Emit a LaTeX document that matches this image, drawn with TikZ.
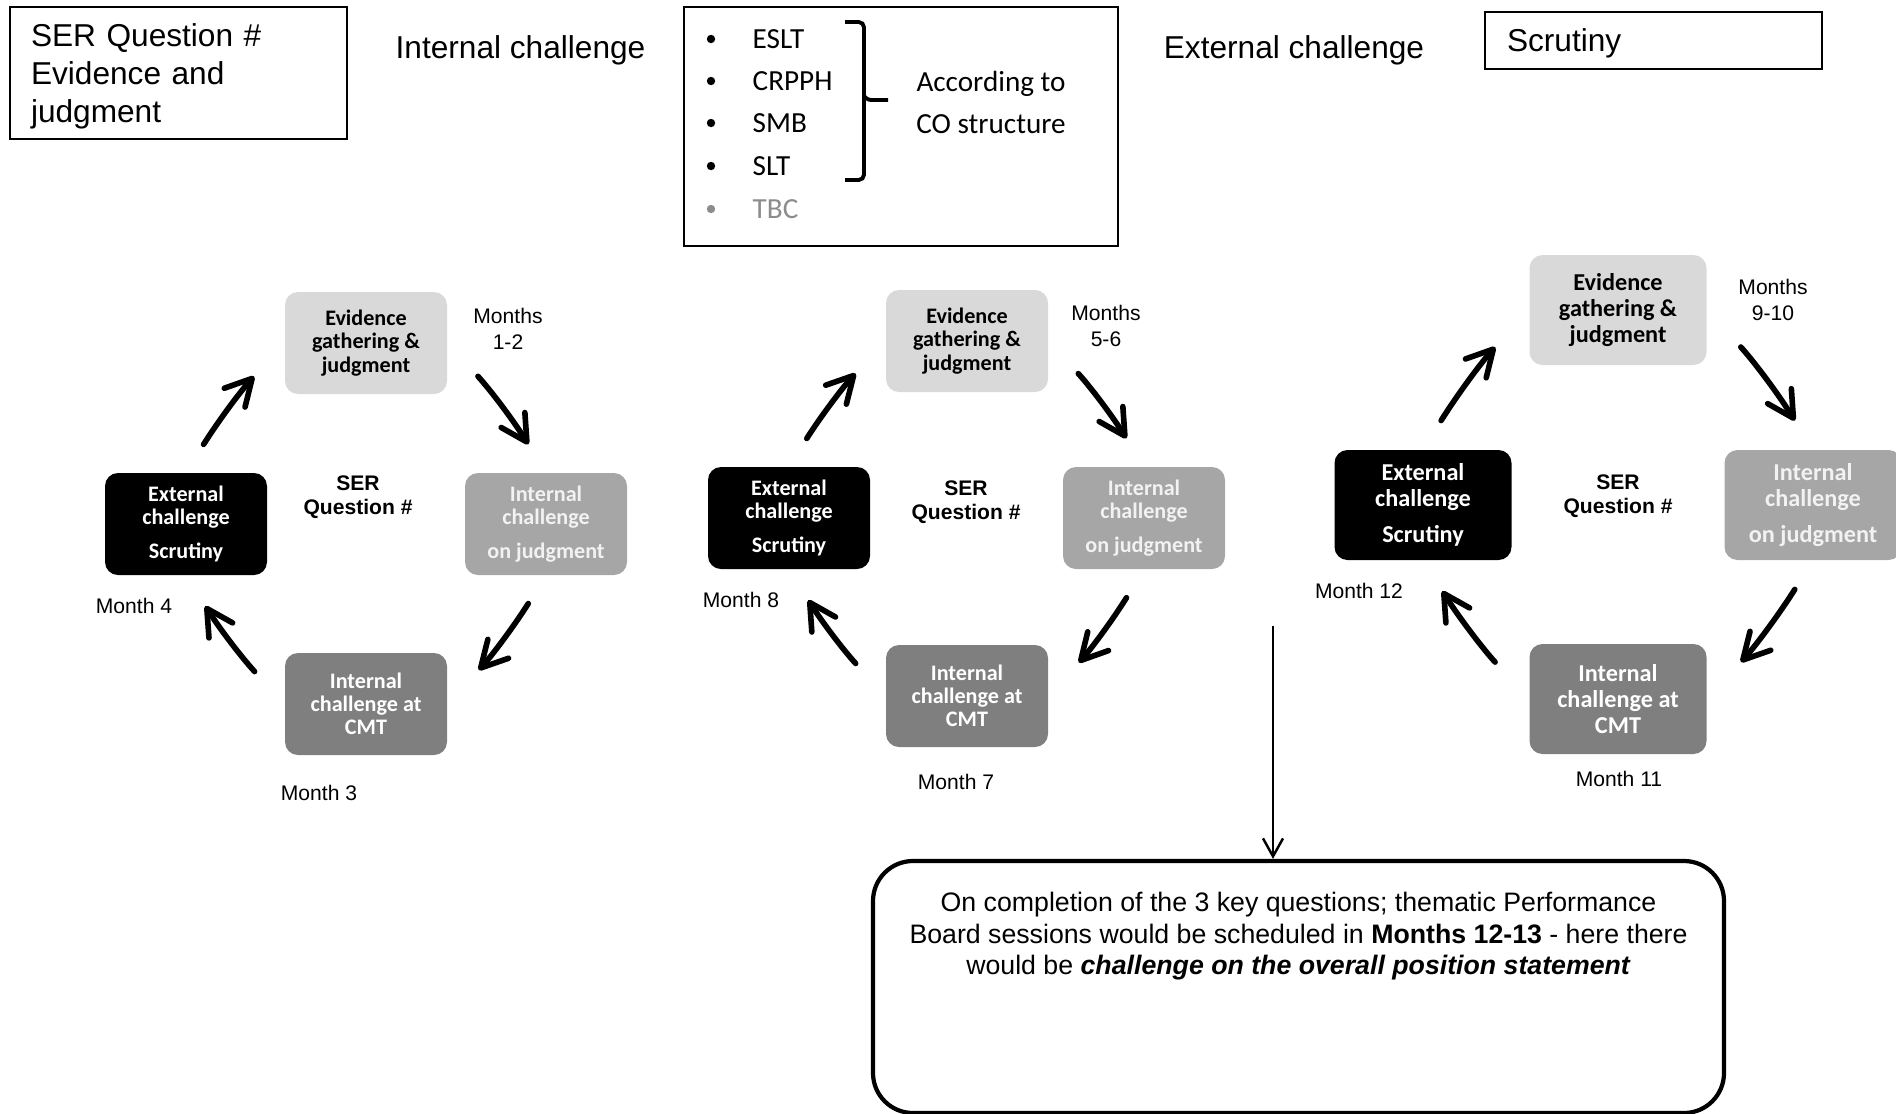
\documentclass[tikz,border=0pt]{standalone}
\usepackage{fontspec}
\setmainfont{Liberation Sans}
\newfontfamily\calibri{Carlito}
\usetikzlibrary{arrows.meta, positioning}
\definecolor{evidence}{RGB}{217, 217, 217}
\definecolor{internal}{RGB}{166, 166, 166}
\definecolor{cmt}{RGB}{127, 127, 127}
\definecolor{tbc}{RGB}{140, 140, 140}

\begin{document}
\begin{tikzpicture}[
    box/.style={rectangle, rounded corners=1.3mm, minimum width=1.62cm, minimum height=1.02cm,
                align=center, inner sep=1pt, font=\calibri\bfseries\fontsize{6.3}{6.6}\selectfont},
    bigbox/.style={box, minimum width=1.77cm, minimum height=1.10cm,
                font=\calibri\bfseries\fontsize{6.9}{7.5}\selectfont},
    head/.style={font=\fontsize{9}{10.7}\selectfont},
    item/.style={anchor=west, inner sep=0pt, font=\calibri\fontsize{8.3}{10}\selectfont},
    month/.style={align=center, inner sep=0pt, font=\fontsize{6}{7.2}\selectfont},
    ser/.style={align=center, inner sep=0pt, font=\bfseries\fontsize{6}{6.9}\selectfont},
    cyc/.style={-{Straight Barb[length=2.6mm, width=2.8mm, round]}, line width=1.6pt, line cap=round}]

    \useasboundingbox (0, 0) rectangle (18.96, -11.14);
    \clip (0, 0) rectangle (18.96, -11.14);

    % Header
    \node[draw, line width=0.7pt, head, text width=2.95cm, inner xsep=0.21cm, minimum height=1.32cm, align=left, text depth=21.4pt]
        (serbox) at (1.785, -0.73) {SER Question \#\\Evidence and\\judgment};
    \node[head] (intlabel) at (5.205, -0.505) {Internal challenge};
    \node[head] (extlabel) at (12.94, -0.505) {External challenge};
    \node[draw, line width=0.7pt, head, text width=2.93cm, inner xsep=0.22cm, minimum height=0.57cm, align=left, text depth=0pt]
        (scrutiny) at (16.535, -0.405) {Scrutiny};

    % Internal challenge list
    \node[draw, line width=0.7pt, minimum width=4.34cm, minimum height=2.39cm] (listbox) at (9.01, -1.265) {};
    \node[item] (eslt) at (7.52, -0.39) {ESLT};
    \node[item] (crpph) at (7.52, -0.81) {CRPPH};
    \node[item] (smb) at (7.52, -1.23) {SMB};
    \node[item] (slt) at (7.52, -1.66) {SLT};
    \node[item, text=tbc] (tbc) at (7.52, -2.09) {TBC};
    \fill (7.11, -0.39) circle (0.042);
    \fill (7.11, -0.81) circle (0.042);
    \fill (7.11, -1.23) circle (0.042);
    \fill (7.11, -1.66) circle (0.042);
    \fill[tbc] (7.11, -2.09) circle (0.042);
    \draw[line width=1.1pt, rounded corners=1.5pt] (8.45, -0.22) -- (8.64, -0.22) -- (8.64, -1.80) -- (8.45, -1.80);
    \draw[line width=1.1pt, rounded corners=1.5pt] (8.64, -0.96) -- (8.66, -1.00) -- (8.88, -1.00);
    \node[align=center, font=\calibri\fontsize{8.3}{11.7}\selectfont] (costruct) at (9.91, -1.025) {According to\\CO structure};

    % Cycle 1: months 1-4
    \node[box, fill=evidence] (evi1) at (3.66, -3.43) {Evidence\\gathering \&\\judgment};
    \node[box, fill=internal, text=white!95!black] (int1) at (5.46, -5.24) {Internal\\challenge\\[3pt]on judgment};
    \node[box, fill=cmt, text=white] (cmt1) at (3.66, -7.04) {Internal\\challenge at\\CMT};
    \node[box, fill=black, text=white] (ext1) at (1.86, -5.24) {External\\challenge\\[3pt]Scrutiny};
    \node[ser] (ser1) at (3.58, -4.975) {SER\\Question \#};
    \node[month] (m12) at (5.08, -3.29) {Months\\1-2};
    \node[month] (m3) at (3.19, -7.93) {Month 3};
    \node[month] (m4) at (1.34, -6.06) {Month 4};
    \draw[cyc, shorten <=3.3mm, shorten >=4.5mm] (ext1.north) to[bend left=5] (evi1.west);
    \draw[cyc, shorten <=4.5mm, shorten >=3.3mm] (evi1.east) to[bend left=5] (int1.north);
    \draw[cyc, shorten <=3.3mm, shorten >=4.6mm] (int1.south) to[bend left=5] (cmt1.east);
    \draw[cyc, shorten <=4.4mm, shorten >=3.6mm] (cmt1.west) to[bend left=5] (ext1.south);

    % Cycle 2: months 5-8
    \node[box, fill=evidence] (evi2) at (9.67, -3.41) {Evidence\\gathering \&\\judgment};
    \node[box, fill=internal, text=white!95!black] (int2) at (11.44, -5.18) {Internal\\challenge\\[3pt]on judgment};
    \node[box, fill=cmt, text=white] (cmt2) at (9.67, -6.96) {Internal\\challenge at\\CMT};
    \node[box, fill=black, text=white] (ext2) at (7.89, -5.18) {External\\challenge\\[3pt]Scrutiny};
    \node[ser] (ser2) at (9.66, -5.02) {SER\\Question \#};
    \node[month] (m56) at (11.06, -3.26) {Months\\5-6};
    \node[month] (m7) at (9.56, -7.82) {Month 7};
    \node[month] (m8) at (7.41, -6.00) {Month 8};
    \draw[cyc, shorten <=3.3mm, shorten >=4.4mm] (ext2.north) to[bend left=5] (evi2.west);
    \draw[cyc, shorten <=4.4mm, shorten >=3.3mm] (evi2.east) to[bend left=5] (int2.north);
    \draw[cyc, shorten <=3.3mm, shorten >=4.5mm] (int2.south) to[bend left=5] (cmt2.east);
    \draw[cyc, shorten <=4.4mm, shorten >=3.6mm] (cmt2.west) to[bend left=5] (ext2.south);

    % Cycle 3: months 9-12
    \node[bigbox, fill=evidence] (evi3) at (16.18, -3.10) {Evidence\\gathering \&\\judgment};
    \node[bigbox, fill=internal, text=white!95!black] (int3) at (18.13, -5.05) {Internal\\challenge\\[2.8pt]on judgment};
    \node[bigbox, fill=cmt, text=white] (cmt3) at (16.18, -6.99) {Internal\\challenge at\\CMT};
    \node[bigbox, fill=black, text=white] (ext3) at (14.23, -5.05) {External\\challenge\\[2.8pt]Scrutiny};
    \node[ser] (ser3) at (16.18, -4.96) {SER\\Question \#};
    \node[month] (m910) at (17.73, -3.00) {Months\\9-10};
    \node[month] (m11) at (16.19, -7.785) {Month 11};
    \node[month] (m12) at (13.59, -5.91) {Month 12};
    \draw[cyc, shorten <=3.4mm, shorten >=5mm] (ext3.north) to[bend left=5] (evi3.west);
    \draw[cyc, shorten <=5mm, shorten >=3.4mm] (evi3.east) to[bend left=5] (int3.north);
    \draw[cyc, shorten <=3.4mm, shorten >=5mm] (int3.south) to[bend left=5] (cmt3.east);
    \draw[cyc, shorten <=5mm, shorten >=3.6mm] (cmt3.west) to[bend left=5] (ext3.south);

    % Performance Board
    \node[draw, line width=1.2pt, rounded corners=4mm, minimum width=8.51cm, minimum height=2.52cm] (note) at (12.985, -9.87) {};
    \node[below=3.3mm of note.north, inner sep=0pt, align=center, font=\fontsize{7.6}{8.96}\selectfont] (notetext)
        {On completion of the 3 key questions; thematic Performance\\Board sessions would be scheduled in \textbf{Months 12-13} - here there\\would be \textbf{\textit{challenge on the overall position statement}}};
    \coordinate (drop) at (12.73, -6.26);
    \draw[-{Straight Barb[length=1.8mm, width=2mm]}, line width=0.7pt] (drop) -- (drop |- note.north);
\end{tikzpicture}
\end{document}
